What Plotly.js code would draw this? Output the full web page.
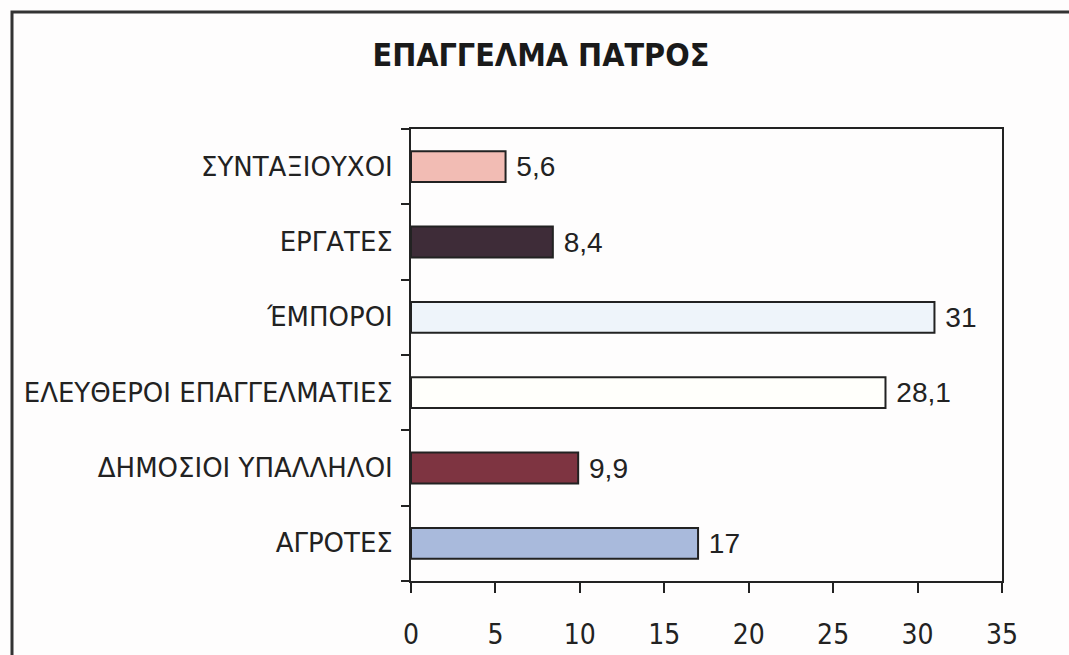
<!DOCTYPE html>
<html>
<head>
<meta charset="utf-8">
<script src="https://cdn.plot.ly/plotly-3.0.1.min.js"></script>
<style>html,body{margin:0;padding:0;background:#fefdfd;}#chart{width:1069px;height:655px;}</style>
</head>
<body>
<div id="chart"></div>
<script>
// Categories listed bottom to top
const categories = ["ΑΓΡΟΤΕΣ", "ΔΗΜΟΣΙΟΙ ΥΠΑΛΛΗΛΟΙ", "ΕΛΕΥΘΕΡΟΙ ΕΠΑΓΓΕΛΜΑΤΙΕΣ", "ΈΜΠΟΡΟΙ", "ΕΡΓΑΤΕΣ", "ΣΥΝΤΑΞΙΟΥΧΟΙ"];
const values = [17, 9.9, 28.1, 31, 8.4, 5.6];
const barColors = ["#a9badc", "#7e3441", "#fffffb", "#eef4fa", "#3e2c38", "#f2bcb4"];
const xTicks = [0, 5, 10, 15, 20, 25, 30, 35];
const titleText = "ΕΠΑΓΓΕΛΜΑ ΠΑΤΡΟΣ";

const condFont = "DejaVu Sans Condensed, DejaVu Sans, sans-serif";
const labelFont = "DejaVu Sans, sans-serif";

const trace = {
  type: "bar",
  orientation: "h",
  y: categories,
  x: values,
  text: values.map(v => String(v).replace(".", ",")),
  texttemplate: " %{text}",
  textposition: "outside",
  cliponaxis: false,
  textfont: {family: "Liberation Sans, Arial, sans-serif", size: 30, color: "#222"},
  marker: {color: barColors, line: {color: "#222", width: 2}},
  hoverinfo: "none"
};

const layout = {
  width: 1069, height: 655,
  margin: {l: 411, r: 67, t: 129, b: 74},
  paper_bgcolor: "#fefdfd",
  plot_bgcolor: "#fefdfd",
  bargap: 0.59,
  showlegend: false,
  title: {
    text: "<b>" + titleText + "</b>",
    font: {family: condFont, size: 32, color: "#1a1a1a"},
    x: 0.506, xref: "container", xanchor: "center",
    y: 0.916, yref: "container", yanchor: "middle"
  },
  xaxis: {
    range: [0, 35],
    tickvals: xTicks,
    ticktext: xTicks.map(String),
    ticks: "outside", ticklen: 10, tickwidth: 2, tickcolor: "#222",
    showline: true, linecolor: "#222", linewidth: 2, mirror: true,
    showgrid: false, zeroline: false,
    tickfont: {family: condFont, size: 28, color: "#222"},
    ticklabelstandoff: 17
  },
  yaxis: {
    type: "category",
    tickson: "boundaries",
    ticks: "outside", ticklen: 8, tickwidth: 2, tickcolor: "#222",
    showline: true, linecolor: "#222", linewidth: 2, mirror: true,
    showgrid: false, zeroline: false,
    tickfont: {family: labelFont, size: 26, color: "#222"},
    ticklabelstandoff: 11
  },
  shapes: [{
    type: "rect", xref: "paper", yref: "paper",
    x0: (12 - 411) / 591, x1: (1080 - 411) / 591,
    y0: (581 - 670) / 452, y1: (581 - 12) / 452,
    line: {color: "#333", width: 3}, fillcolor: "rgba(0,0,0,0)", layer: "below"
  }]
};

Plotly.newPlot("chart", [trace], layout, {displayModeBar: false, staticPlot: true});
</script>
</body>
</html>
